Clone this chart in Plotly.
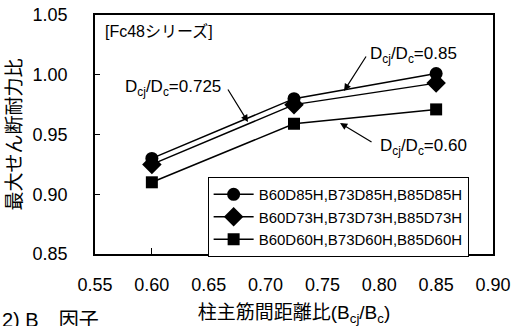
import plotly.graph_objects as go

x_vals = [0.60, 0.725, 0.85]
d85 = [0.930, 0.980, 1.001]
d73 = [0.925, 0.975, 0.993]
d60 = [0.910, 0.959, 0.971]
names = ["B60D85H,B73D85H,B85D85H", "B60D73H,B73D73H,B85D73H", "B60D60H,B73D60H,B85D60H"]
symbols = ["circle", "diamond", "square"]
sizes = [13, 15, 12]
x_ticks = [0.55, 0.60, 0.65, 0.70, 0.75, 0.80, 0.85, 0.90]
y_ticks = [0.85, 0.90, 0.95, 1.00, 1.05]

FONT = "Liberation Sans, Arial, Noto Sans CJK JP, sans-serif"

fig = go.Figure()
for ys, nm, sy, sz in zip([d85, d73, d60], names, symbols, sizes):
    fig.add_trace(go.Scatter(
        x=x_vals, y=ys, name=nm, mode="lines+markers",
        line=dict(color="black", width=1.5),
        marker=dict(symbol=sy, size=sz, color="black"),
    ))

fig.update_layout(
    width=513, height=326,
    margin=dict(l=95, r=20, t=15, b=72, autoexpand=False),
    paper_bgcolor="white", plot_bgcolor="white",
    font=dict(family=FONT, color="black"),
    showlegend=True,
    legend=dict(
        x=0.283, y=0.322, xanchor="left", yanchor="top",
        bordercolor="black", borderwidth=1, bgcolor="white",
        font=dict(size=15, family=FONT), itemwidth=40,
        tracegroupgap=0,
    ),
)
fig.update_xaxes(
    range=[0.55, 0.90], tickvals=x_ticks,
    ticktext=[f"{v:.2f}" for v in x_ticks],
    ticks="inside", ticklen=6, tickwidth=1, tickcolor="black",
    showline=True, linecolor="black", linewidth=1.5, mirror=True,
    showgrid=False, zeroline=False, automargin=False,
    tickfont=dict(size=18, family=FONT),
    ticklabelstandoff=14,
    title=dict(text="柱主筋間距離比(B<sub>cj</sub>/B<sub>c</sub>)",
               font=dict(size=19, family=FONT), standoff=23),
)
fig.update_yaxes(
    range=[0.85, 1.05], tickvals=y_ticks,
    ticktext=[f"{v:.2f}" for v in y_ticks],
    ticks="inside", ticklen=5, tickwidth=1, tickcolor="black",
    showline=True, linecolor="black", linewidth=1.5, mirror=True,
    showgrid=False, zeroline=False, automargin=False,
    tickfont=dict(size=18, family=FONT),
    ticklabelstandoff=22,
    title=dict(text="最大せん断耐力比", font=dict(size=19, family=FONT), standoff=6),
)

ann_font = dict(size=17, family=FONT, color="black")
# text labels
fig.add_annotation(x=0.6661, y=0.9889, xref="x", yref="y", text="D<sub>cj</sub>/D<sub>c</sub>=0.725",
                   showarrow=False, xanchor="right", yanchor="middle", font=ann_font, xshift=-4)
fig.add_annotation(x=0.7900, y=1.0165, xref="x", yref="y", text="D<sub>cj</sub>/D<sub>c</sub>=0.85",
                   showarrow=False, xanchor="left", yanchor="middle", font=ann_font)
fig.add_annotation(x=0.7988, y=0.9395, xref="x", yref="y", text="D<sub>cj</sub>/D<sub>c</sub>=0.60",
                   showarrow=False, xanchor="left", yanchor="middle", font=ann_font)
# arrows
for hx, hy, tx, ty in [(0.6845, 0.9605, 0.6661, 0.9889),
                       (0.7690, 0.9864, 0.7892, 1.0165),
                       (0.7655, 0.9596, 0.7945, 0.9429)]:
    fig.add_annotation(x=hx, y=hy, ax=tx, ay=ty, xref="x", yref="y", axref="x", ayref="y",
                       text="", showarrow=True, arrowhead=2, arrowsize=1.2, arrowwidth=1.2,
                       arrowcolor="black", standoff=0, startstandoff=0)

fig.add_annotation(x=0.02, y=0.93, xref="paper", yref="paper", text="[Fc48シリーズ]",
                   showarrow=False, xanchor="left", yanchor="middle",
                   font=dict(size=16, family=FONT, color="black"))
fig.add_annotation(x=-0.2387, y=-0.222, xref="paper", yref="paper", text="2) B　因子",
                   showarrow=False, xanchor="left", yanchor="top",
                   font=dict(size=20, family=FONT, color="black"))

fig.write_html("out.html", config={"displayModeBar": False},
               post_script="document.body.style.margin='0';document.body.style.overflow='hidden';")
